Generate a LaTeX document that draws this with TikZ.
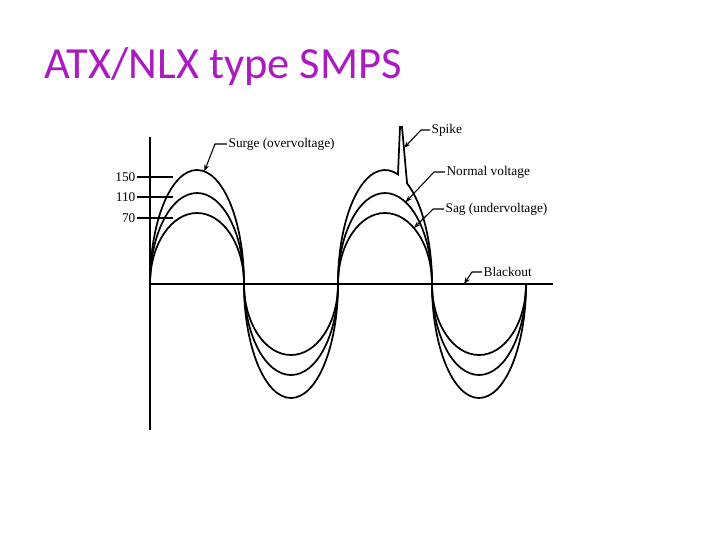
\documentclass[tikz,border=0pt]{standalone}
\usepackage{fontspec}
\usetikzlibrary{arrows.meta}
\setmainfont{Liberation Serif}
\newfontfamily\titlefont{Carlito}
\definecolor{titlepurple}{RGB}{170,28,192}
\begin{document}
\begin{tikzpicture}[x=0.75pt, y=0.75pt, >={Stealth[length=5pt,width=3.6pt]},
    wave/.style={line width=1.3pt},
    leader/.style={line width=0.8pt, ->},
    lbl/.style={font=\fontsize{10}{12}\selectfont, inner sep=1pt, anchor=west}]
    \useasboundingbox (0,0) rectangle (720,540);

    \node[anchor=base west, inner sep=0pt, text=titlepurple,
          font=\titlefont\fontsize{33.4}{40}\selectfont] (title) at (44,461) {ATX/NLX type SMPS};

    % axes
    \coordinate (O) at (150,256);
    \draw[line width=1.3pt] (150,110) -- (150,403);
    \draw[line width=1.1pt] (O) -- (553,256);

    % half cycles
    \foreach \a in {114,91,71} {
      \draw[wave] (150,256) arc[start angle=180, end angle=0, x radius=47, y radius=\a];
      \draw[wave] (244,256) arc[start angle=180, end angle=360, x radius=47, y radius=\a];
      \draw[wave] (432,256) arc[start angle=180, end angle=360, x radius=47, y radius=\a];
    }
    \foreach \a in {91,71}
      \draw[wave] (338,256) arc[start angle=180, end angle=0, x radius=47, y radius=\a];

    % outer hump with the spike
    \draw[wave] (338,256) arc[start angle=180, end angle=74, x radius=47, y radius=114]
      -- (400,413) -- (402,413) -- ([shift={(385,256)}]62:47 and 114)
      arc[start angle=62, end angle=0, x radius=47, y radius=114];

    % voltage marks
    \foreach \v/\y in {150/363, 110/343, 70/322} {
      \node[lbl, anchor=east] (v\v) at (137,\y) {\v};
      \draw[line width=1pt] (v\v.east) -- ++(36,0);
    }

    % points on the curves
    \coordinate (surgeTip) at ([shift={(197,256)}]81:47 and 114);
    \coordinate (spikeTip) at (404,392);
    \coordinate (normalTip) at ([shift={(385,256)}]64:47 and 91);
    \coordinate (sagTip) at ([shift={(385,256)}]52:47 and 71);
    \coordinate (blackTip) at (464,256);

    \node[lbl] (surge) at (227,396) {Surge (overvoltage)};
    \node[lbl] (spike) at (430,410) {Spike};
    \node[lbl] (normal) at (445,368) {Normal voltage};
    \node[lbl] (sag) at (444,331) {Sag (undervoltage)};
    \node[lbl] (black) at (482,268) {Blackout};

    \draw[leader] (surge.west) -- ++(-12,0) -- (surgeTip);
    \draw[leader] (spike.west) -- ++(-9,0) -- (spikeTip);
    \draw[leader] (normal.west) -- ++(-11,0) -- (normalTip);
    \draw[leader] (sag.west) -- ++(-11,0) -- (sagTip);
    \draw[leader] (black.west) -- ++(-10,0) -- (blackTip);
\end{tikzpicture}
\end{document}
